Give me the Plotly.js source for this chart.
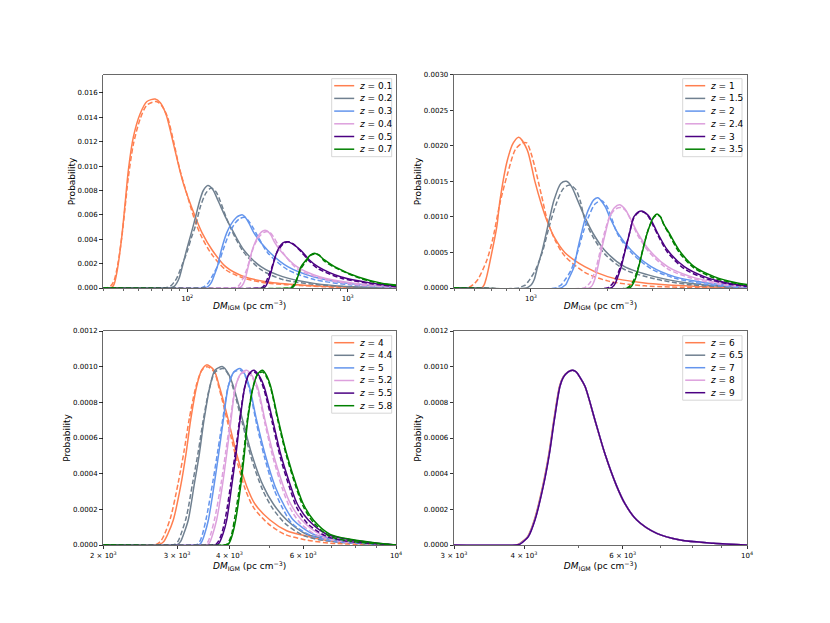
<!DOCTYPE html>
<html>
<head>
<meta charset="utf-8">
<script src="https://cdn.plot.ly/plotly-3.0.1.min.js"></script>
<style>html,body{margin:0;padding:0;background:#fff;}#chart{width:830px;height:623px;}</style>
</head>
<body>
<div id="chart"></div>
<script>
// ---------------- DATA ----------------
// Panel 1 : z = 0.1 ... 0.7
const p1_labels = ['0.1', '0.2', '0.3', '0.4', '0.5', '0.7'];
const p1_z01_x  = [30, 33.5, 35, 36.7, 39.1, 41, 43, 46.2, 50.9, 56.1, 63.2, 68, 74, 80.5, 89, 95, 112.6, 124, 143.3, 173.6, 226, 317, 512, 912, 2000];
const p1_z01_y  = [0, 0, 0.0003, 0.0015, 0.0042, 0.0069, 0.0097, 0.0124, 0.0143, 0.0153, 0.0155, 0.0152, 0.0142, 0.0123, 0.0099, 0.0085, 0.0058, 0.0045, 0.0031, 0.00175, 0.00093, 0.0005, 0.00025, 0.0001, 0];
const p1_z01_dx = [30, 31.5, 33.5, 35, 37, 39.3, 41, 43, 46.2, 51, 56, 64, 69, 75, 82, 90, 97, 112.6, 124, 143.3, 173.6, 226, 317, 512, 912, 2000];
const p1_z01_dy = [0, 0, 0.0002, 0.0006, 0.002, 0.0044, 0.0066, 0.0091, 0.0118, 0.0139, 0.015, 0.0153, 0.015, 0.0141, 0.0121, 0.0097, 0.0082, 0.0054, 0.0041, 0.0027, 0.0015, 0.0008, 0.0004, 0.0002, 0.00005, 0];
const p1_z02_x  = [30, 76, 80, 83, 86, 89, 93, 99, 106, 112.6, 119.3, 126, 134.5, 144, 155.3, 173.6, 195.6, 226, 288, 393, 618, 1054, 2000];
const p1_z02_y  = [0, 0, 0.00004, 0.00014, 0.0004, 0.0008, 0.0017, 0.0031, 0.0045, 0.0058, 0.0071, 0.008, 0.0084, 0.0081, 0.0072, 0.0058, 0.0045, 0.0031, 0.00175, 0.00093, 0.00038, 0.0001, 0];
const p1_z02_dx = [30, 71, 74, 78, 82, 86, 93, 100, 106, 112.6, 121, 131, 141, 151, 161, 176, 198, 226, 288, 393, 618, 1054, 2000];
const p1_z02_dy = [0, 0, 0.00003, 0.00012, 0.0004, 0.0008, 0.0019, 0.003, 0.0041, 0.0051, 0.0067, 0.0078, 0.0082, 0.0079, 0.0071, 0.0057, 0.0042, 0.0029, 0.0015, 0.0007, 0.0003, 0.00008, 0];
const p1_z03_x  = [30, 127, 132, 137, 142, 148, 154, 163, 176, 187, 203, 212, 221, 230, 243, 261, 317, 423, 618, 1054, 2000];
const p1_z03_y  = [0, 0, 0.00005, 0.0002, 0.0005, 0.0011, 0.00175, 0.0031, 0.0045, 0.0052, 0.0058, 0.00595, 0.006, 0.0058, 0.0053, 0.0045, 0.0031, 0.00175, 0.0009, 0.00035, 0.0001];
const p1_z03_dx = [30, 119, 124, 129, 135, 145, 157, 167, 182, 198, 213, 228, 238, 253, 274, 317, 423, 618, 1054, 2000];
const p1_z03_dy = [0, 0, 0.00004, 0.00015, 0.0004, 0.0011, 0.002, 0.0031, 0.0044, 0.0053, 0.0057, 0.0058, 0.0056, 0.0051, 0.0043, 0.0029, 0.0015, 0.0007, 0.00025, 0.00005];
const p1_z04_x  = [30, 205, 213, 220, 228, 240, 254, 268, 281, 298, 313, 330, 352, 379, 482, 675, 1086, 2000];
const p1_z04_y  = [0, 0, 0.00005, 0.0002, 0.0006, 0.00175, 0.0031, 0.0039, 0.0044, 0.0047, 0.0047, 0.0044, 0.0037, 0.0031, 0.00175, 0.0009, 0.0004, 0.0001];
const p1_z04_dx = [30, 192, 200, 208, 215, 230, 245, 262, 285, 305, 324, 345, 370, 400, 482, 675, 1086, 2000];
const p1_z04_dy = [0, 0, 0.00004, 0.00015, 0.0004, 0.0012, 0.0023, 0.0035, 0.0043, 0.0046, 0.0046, 0.0042, 0.0035, 0.0028, 0.0016, 0.0008, 0.0003, 0.00005];
const p1_z05_x  = [30, 295, 302, 310, 318, 328, 340, 366, 395, 423, 455, 510, 577, 652, 912, 1406, 2000];
const p1_z05_y  = [0, 0, 0.00005, 0.0002, 0.0005, 0.001, 0.00175, 0.0031, 0.0037, 0.0038, 0.0036, 0.0031, 0.0023, 0.00175, 0.0009, 0.0004, 0.00015];
const p1_z05_dx = [30, 284, 292, 300, 310, 321, 335, 362, 395, 428, 460, 510, 577, 652, 912, 1406, 2000];
const p1_z05_dy = [0, 0, 0.00004, 0.00016, 0.0005, 0.001, 0.0016, 0.0029, 0.0036, 0.0038, 0.0036, 0.003, 0.0022, 0.0016, 0.0008, 0.00035, 0.0001];
const p1_z07_x  = [30, 445, 454, 465, 476, 488, 512, 551, 585, 621, 660, 717, 828, 1161, 1624, 2000];
const p1_z07_y  = [0, 0, 0.00005, 0.0002, 0.0005, 0.0009, 0.00175, 0.0023, 0.0027, 0.00285, 0.0027, 0.0023, 0.00175, 0.0009, 0.0004, 0.00025];
const p1_z07_dx = [30, 436, 445, 456, 468, 480, 512, 551, 590, 628, 665, 717, 828, 1161, 1624, 2000];
const p1_z07_dy = [0, 0, 0.00004, 0.00016, 0.0004, 0.0007, 0.0016, 0.0022, 0.0027, 0.0028, 0.0027, 0.0022, 0.0017, 0.00085, 0.00035, 0.0002];

// Panel 2 : z = 1 ... 3.5
const p2_labels = ['1', '1.5', '2', '2.4', '3', '3.5'];
const p2_z1_x   = [500, 640, 655, 670, 693, 735, 757, 809, 853, 896, 965, 1036, 1094, 1154, 1240, 1356, 1623, 1994, 2779, 4550, 7000];
const p2_z1_y   = [0, 0, 0.00004, 0.00015, 0.00039, 0.00086, 0.00124, 0.0018, 0.00204, 0.00212, 0.00195, 0.0015, 0.0012, 0.00095, 0.0007, 0.0005, 0.0003, 0.00016, 0.00007, 0.00002, 0];
const p2_z1_dx  = [500, 560, 579, 600, 620, 672, 710, 757, 809, 870, 925, 962, 1000, 1036, 1100, 1160, 1240, 1356, 1623, 1994, 2779, 7000];
const p2_z1_dy  = [0, 0, 0.00002, 0.00006, 0.00012, 0.00039, 0.0007, 0.0012, 0.0016, 0.00195, 0.00204, 0.00204, 0.0019, 0.0017, 0.0013, 0.00095, 0.00068, 0.00045, 0.00022, 0.0001, 0.00003, 0];
const p2_z15_x  = [500, 960, 982, 1005, 1030, 1062, 1107, 1186, 1232, 1309, 1377, 1440, 1520, 1623, 1748, 1942, 2323, 3040, 4098, 7000];
const p2_z15_y  = [0, 0, 0.00002, 0.00005, 0.00012, 0.0003, 0.00053, 0.001, 0.00124, 0.00147, 0.0015, 0.00143, 0.00124, 0.001, 0.00077, 0.00053, 0.0003, 0.00016, 0.00007, 0];
const p2_z15_dx = [500, 900, 920, 950, 980, 1040, 1107, 1186, 1260, 1340, 1419, 1500, 1560, 1623, 1748, 1942, 2323, 3040, 4098, 7000];
const p2_z15_dy = [0, 0, 0.00002, 0.00004, 0.0001, 0.00025, 0.0005, 0.0009, 0.0012, 0.0014, 0.00145, 0.00138, 0.00122, 0.00097, 0.00072, 0.00048, 0.00026, 0.00013, 0.00005, 0];
const p2_z2_x   = [500, 1310, 1336, 1370, 1400, 1474, 1520, 1576, 1637, 1697, 1760, 1828, 1954, 2030, 2188, 2467, 2951, 3637, 4902, 7000];
const p2_z2_y   = [0, 0, 0.00002, 0.00005, 0.00012, 0.0003, 0.00053, 0.00077, 0.001, 0.00114, 0.00124, 0.00127, 0.00114, 0.001, 0.00077, 0.00053, 0.0003, 0.00016, 0.00007, 0.00001];
const p2_z2_dx  = [500, 1250, 1277, 1310, 1350, 1430, 1520, 1600, 1680, 1780, 1885, 1980, 2060, 2188, 2467, 2951, 3637, 4902, 7000];
const p2_z2_dy  = [0, 0, 0.00002, 0.00004, 0.0001, 0.00024, 0.0005, 0.00078, 0.001, 0.00118, 0.00123, 0.00115, 0.001, 0.00075, 0.0005, 0.00027, 0.00014, 0.00005, 0];
const p2_z24_x  = [500, 1690, 1723, 1750, 1780, 1828, 1885, 1954, 2030, 2120, 2222, 2320, 2430, 2617, 2907, 3425, 4225, 5529, 7000];
const p2_z24_y  = [0, 0, 0.00002, 0.00006, 0.00013, 0.0003, 0.00053, 0.00077, 0.001, 0.00113, 0.00117, 0.00112, 0.001, 0.00077, 0.00053, 0.0003, 0.00016, 0.00007, 0.00002];
const p2_z24_dx = [500, 1610, 1647, 1680, 1720, 1790, 1860, 1940, 2030, 2140, 2266, 2360, 2460, 2617, 2907, 3425, 4225, 5529, 7000];
const p2_z24_dy = [0, 0, 0.00002, 0.00005, 0.0001, 0.00026, 0.0005, 0.00078, 0.001, 0.00111, 0.00113, 0.00108, 0.00095, 0.00074, 0.0005, 0.00027, 0.00014, 0.00005, 0.00001];
const p2_z3_x   = [500, 2050, 2091, 2140, 2188, 2255, 2338, 2430, 2526, 2630, 2737, 2820, 2907, 3131, 3425, 3979, 4760, 5866, 7000];
const p2_z3_y   = [0, 0, 0.00002, 0.00007, 0.00016, 0.0003, 0.00053, 0.00077, 0.001, 0.00107, 0.00108, 0.00105, 0.001, 0.00077, 0.00053, 0.0003, 0.00016, 0.00007, 0.00003];
const p2_z3_dx  = [500, 1990, 2030, 2085, 2140, 2230, 2320, 2420, 2520, 2630, 2745, 2830, 2907, 3131, 3425, 3979, 4760, 5866, 7000];
const p2_z3_dy  = [0, 0, 0.00002, 0.00006, 0.00013, 0.00028, 0.0005, 0.00075, 0.00098, 0.00106, 0.00107, 0.00104, 0.00098, 0.00075, 0.0005, 0.00027, 0.00014, 0.00006, 0.00002];
const p2_z35_x  = [500, 2420, 2467, 2520, 2580, 2641, 2737, 2848, 2933, 3020, 3114, 3210, 3304, 3477, 3803, 4351, 5206, 6415, 7000];
const p2_z35_y  = [0, 0, 0.00002, 0.00007, 0.00016, 0.0003, 0.00053, 0.00077, 0.0009, 0.001, 0.00104, 0.001, 0.0009, 0.00077, 0.00053, 0.0003, 0.00016, 0.00007, 0.00005];
const p2_z35_dx = [500, 2375, 2420, 2480, 2540, 2620, 2720, 2835, 2925, 3020, 3120, 3215, 3310, 3477, 3803, 4351, 5206, 6415, 7000];
const p2_z35_dy = [0, 0, 0.00002, 0.00006, 0.00013, 0.00027, 0.0005, 0.00075, 0.00089, 0.00099, 0.00103, 0.001, 0.00089, 0.00075, 0.0005, 0.00028, 0.00014, 0.00006, 0.00004];

// Panel 3 : z = 4 ... 5.8
const p3_labels = ['4', '4.4', '5', '5.2', '5.5', '5.8'];
const p3_z4_x   = [2000, 2670, 2732, 2790, 2850, 2939, 3060, 3151, 3233, 3342, 3435, 3530, 3675, 3785, 3978, 4164, 4399, 4605, 5002, 5482, 6118, 7086, 10000];
const p3_z4_y   = [0, 0, 0.000005, 0.00002, 0.00006, 0.00014, 0.00033, 0.00051, 0.0007, 0.00089, 0.00098, 0.00101, 0.00098, 0.00089, 0.0007, 0.00051, 0.00033, 0.00023, 0.00014, 0.00008, 0.00005, 0.00002, 0];
const p3_z4_dx  = [2000, 2620, 2682, 2740, 2800, 2900, 3020, 3120, 3210, 3330, 3440, 3540, 3680, 3790, 3970, 4150, 4370, 4570, 4950, 5420, 6050, 7000, 10000];
const p3_z4_dy  = [0, 0, 0.000005, 0.00002, 0.00006, 0.00016, 0.00035, 0.00053, 0.00071, 0.00089, 0.00098, 0.001, 0.00097, 0.00087, 0.00068, 0.00049, 0.00031, 0.00021, 0.00012, 0.00006, 0.00003, 0.00001, 0];
const p3_z44_x  = [2000, 2960, 3021, 3060, 3110, 3191, 3293, 3391, 3479, 3596, 3696, 3855, 3980, 4089, 4303, 4522, 4822, 5094, 5482, 6118, 7086, 10000];
const p3_z44_y  = [0, 0, 0.000005, 0.00002, 0.00006, 0.00014, 0.00033, 0.00051, 0.0007, 0.00089, 0.00098, 0.001, 0.00096, 0.00089, 0.0007, 0.00051, 0.00033, 0.00023, 0.00014, 0.00006, 0.00003, 0];
const p3_z44_dx = [2000, 2910, 2970, 3015, 3065, 3160, 3270, 3375, 3470, 3595, 3700, 3870, 3990, 4095, 4300, 4510, 4800, 5060, 5440, 6060, 7000, 10000];
const p3_z44_dy = [0, 0, 0.000005, 0.00002, 0.00006, 0.00016, 0.00035, 0.00053, 0.00071, 0.00089, 0.00097, 0.00099, 0.00095, 0.00087, 0.00068, 0.00049, 0.00031, 0.00021, 0.00012, 0.00005, 0.00002, 0];
const p3_z5_x   = [2000, 3340, 3404, 3440, 3490, 3564, 3675, 3771, 3869, 3978, 4100, 4241, 4350, 4463, 4647, 4866, 5141, 5382, 5686, 6349, 7217, 10000];
const p3_z5_y   = [0, 0, 0.000005, 0.00002, 0.00006, 0.00014, 0.00033, 0.00051, 0.0007, 0.00089, 0.00097, 0.00099, 0.00096, 0.00089, 0.0007, 0.00051, 0.00033, 0.00023, 0.00014, 0.00006, 0.00003, 0];
const p3_z5_dx  = [2000, 3300, 3360, 3400, 3450, 3530, 3650, 3755, 3860, 3975, 4100, 4250, 4360, 4470, 4645, 4855, 5120, 5350, 5650, 6300, 7150, 10000];
const p3_z5_dy  = [0, 0, 0.000005, 0.00002, 0.00006, 0.00016, 0.00035, 0.00053, 0.00071, 0.00089, 0.00097, 0.00098, 0.00095, 0.00087, 0.00068, 0.00049, 0.00031, 0.00021, 0.00012, 0.00005, 0.00002, 0];
const p3_z52_x  = [2000, 3500, 3564, 3600, 3650, 3729, 3848, 3942, 4036, 4141, 4260, 4399, 4530, 4665, 4866, 5094, 5382, 5603, 5953, 6587, 7486, 10000];
const p3_z52_y  = [0, 0, 0.000005, 0.00002, 0.00006, 0.00014, 0.00033, 0.00051, 0.0007, 0.00089, 0.00096, 0.00098, 0.00095, 0.00089, 0.0007, 0.00051, 0.00033, 0.00023, 0.00014, 0.00006, 0.00003, 0];
const p3_z52_dx = [2000, 3460, 3520, 3560, 3610, 3700, 3825, 3925, 4025, 4140, 4265, 4405, 4535, 4670, 4865, 5085, 5365, 5580, 5920, 6540, 7420, 10000];
const p3_z52_dy = [0, 0, 0.000005, 0.00002, 0.00006, 0.00016, 0.00035, 0.00053, 0.00071, 0.00089, 0.00096, 0.00097, 0.00094, 0.00087, 0.00068, 0.00049, 0.00031, 0.00021, 0.00012, 0.00005, 0.00002, 0];
const p3_z55_x  = [2000, 3700, 3764, 3800, 3860, 3942, 4051, 4149, 4241, 4358, 4460, 4580, 4710, 4839, 5076, 5303, 5603, 5812, 6175, 6832, 7767, 10000];
const p3_z55_y  = [0, 0, 0.000005, 0.00002, 0.00006, 0.00014, 0.00033, 0.00051, 0.0007, 0.00089, 0.00096, 0.00098, 0.00095, 0.00089, 0.0007, 0.00051, 0.00033, 0.00023, 0.00014, 0.00006, 0.00003, 0];
const p3_z55_dx = [2000, 3660, 3720, 3765, 3830, 3920, 4035, 4140, 4235, 4358, 4465, 4585, 4715, 4840, 5072, 5295, 5590, 5795, 6150, 6800, 7700, 10000];
const p3_z55_dy = [0, 0, 0.000005, 0.00002, 0.00006, 0.00016, 0.00035, 0.00053, 0.00071, 0.00089, 0.00096, 0.00097, 0.00094, 0.00087, 0.00068, 0.00049, 0.00031, 0.00021, 0.00012, 0.00005, 0.00002, 0];
const p3_z58_x  = [2000, 3910, 3978, 4015, 4070, 4141, 4256, 4344, 4425, 4564, 4680, 4803, 4910, 5019, 5236, 5482, 5791, 6007, 6349, 6960, 7911, 10000];
const p3_z58_y  = [0, 0, 0.000005, 0.00002, 0.00006, 0.00014, 0.00033, 0.00051, 0.0007, 0.00089, 0.00096, 0.00098, 0.00095, 0.00089, 0.0007, 0.00051, 0.00033, 0.00023, 0.00014, 0.00006, 0.00003, 0];
const p3_z58_dx = [2000, 3880, 3950, 3990, 4050, 4125, 4245, 4335, 4420, 4560, 4680, 4805, 4912, 5020, 5232, 5475, 5780, 5995, 6330, 6930, 7870, 10000];
const p3_z58_dy = [0, 0, 0.000005, 0.00002, 0.00006, 0.00016, 0.00035, 0.00053, 0.00071, 0.00089, 0.00096, 0.00097, 0.00094, 0.00088, 0.00069, 0.0005, 0.00032, 0.00022, 0.00013, 0.00005, 0.00002, 0];

// Panel 4 : z = 6 ... 9
const p4_labels = ['6', '6.5', '7', '8', '9'];
const p4_z6_x   = [3000, 3840, 3914, 3975, 4060, 4172, 4318, 4428, 4520, 4628, 4693, 4783, 4880, 4956, 5032, 5136, 5352, 5578, 5852, 6058, 6356, 6900, 7596, 8710, 10000];
const p4_z6_y   = [0, 0, 0.000005, 0.00002, 0.000047, 0.00014, 0.00033, 0.00051, 0.0007, 0.00089, 0.00094, 0.00097, 0.00098, 0.00097, 0.00094, 0.00089, 0.0007, 0.00051, 0.00033, 0.00023, 0.00014, 0.000065, 0.000028, 0.00001, 0];
const p4_z65_x  = [3000, 3850, 3924, 3984, 4066, 4178, 4324, 4434, 4526, 4633, 4698, 4787, 4883, 4958, 5034, 5138, 5354, 5579, 5853, 6059, 6357, 6902, 7598, 8712, 10000];
const p4_z65_y  = [0, 0, 0.000005, 0.00002, 0.000047, 0.00014, 0.00033, 0.00051, 0.0007, 0.00089, 0.00094, 0.00097, 0.00098, 0.00097, 0.00094, 0.00089, 0.0007, 0.00051, 0.00033, 0.00023, 0.00014, 0.000065, 0.000028, 0.00001, 0];
const p4_z7_x   = [3000, 3855, 3930, 3989, 4070, 4182, 4328, 4437, 4529, 4636, 4700, 4789, 4884, 4959, 5035, 5139, 5355, 5580, 5854, 6059, 6357, 6902, 7598, 8713, 10000];
const p4_z7_y   = [0, 0, 0.000005, 0.00002, 0.000047, 0.00014, 0.00033, 0.00051, 0.0007, 0.00089, 0.00094, 0.00097, 0.00098, 0.00097, 0.00094, 0.00089, 0.0007, 0.00051, 0.00033, 0.00023, 0.00014, 0.000065, 0.000028, 0.00001, 0];
const p4_z8_x   = [3000, 3858, 3932, 3991, 4071, 4183, 4329, 4438, 4530, 4637, 4701, 4790, 4885, 4960, 5035, 5139, 5355, 5580, 5854, 6059, 6357, 6902, 7598, 8713, 10000];
const p4_z8_y   = [0, 0, 0.000005, 0.00002, 0.000047, 0.00014, 0.00033, 0.00051, 0.0007, 0.00089, 0.00094, 0.00097, 0.00098, 0.00097, 0.00094, 0.00089, 0.0007, 0.00051, 0.00033, 0.00023, 0.00014, 0.000065, 0.000028, 0.00001, 0];
const p4_z9_x   = [3000, 3860, 3934, 3993, 4072, 4184, 4330, 4439, 4530, 4637, 4701, 4790, 4885, 4960, 5035, 5139, 5355, 5580, 5854, 6059, 6357, 6902, 7598, 8713, 10000];
const p4_z9_y   = [0, 0, 0.000005, 0.00002, 0.000047, 0.00014, 0.00033, 0.00051, 0.0007, 0.00089, 0.00094, 0.00097, 0.00098, 0.00097, 0.00094, 0.00089, 0.0007, 0.00051, 0.00033, 0.00023, 0.00014, 0.000065, 0.000028, 0.00001, 0];

// Tick labels
const p1_xticks = [100, 1000];
const p1_xtext  = ['10<sup>2</sup>', '10<sup>3</sup>'];
const p2_xticks = [1000];
const p2_xtext  = ['10<sup>3</sup>'];
const p3_xticks = [2000, 3000, 4000, 6000, 10000];
const p3_xtext  = ['2 × 10<sup>3</sup>', '3 × 10<sup>3</sup>', '4 × 10<sup>3</sup>', '6 × 10<sup>3</sup>', '10<sup>4</sup>'];
const p4_xticks = [3000, 4000, 6000, 10000];
const p4_xtext  = ['3 × 10<sup>3</sup>', '4 × 10<sup>3</sup>', '6 × 10<sup>3</sup>', '10<sup>4</sup>'];
const p1_minor  = [30, 40, 50, 60, 70, 80, 90, 200, 300, 400, 500, 600, 700, 800, 900, 2000];
const p2_minor  = [500, 600, 700, 800, 900, 2000, 3000, 4000, 5000, 6000, 7000];
const p3_minor  = [5000, 7000, 8000, 9000];
const p4_minor  = [5000, 7000, 8000, 9000];

const colors6 = ['#FF7F50', '#708090', '#6495ED', '#DDA0DD', '#4B0082', '#008000'];

// ---------------- BUILD ----------------
const W = 830, H = 623;
const panels = [
  { xa: 'x',  ya: 'y',  labels: p1_labels, solid: [[p1_z01_x,p1_z01_y],[p1_z02_x,p1_z02_y],[p1_z03_x,p1_z03_y],[p1_z04_x,p1_z04_y],[p1_z05_x,p1_z05_y],[p1_z07_x,p1_z07_y]],
    dashed: [[p1_z01_dx,p1_z01_dy],[p1_z02_dx,p1_z02_dy],[p1_z03_dx,p1_z03_dy],[p1_z04_dx,p1_z04_dy],[p1_z05_dx,p1_z05_dy],[p1_z07_dx,p1_z07_dy]],
    leg: { left: 331.7, right: 391.7, first: 85.7, step: 12.7 } },
  { xa: 'x2', ya: 'y2', labels: p2_labels, solid: [[p2_z1_x,p2_z1_y],[p2_z15_x,p2_z15_y],[p2_z2_x,p2_z2_y],[p2_z24_x,p2_z24_y],[p2_z3_x,p2_z3_y],[p2_z35_x,p2_z35_y]],
    dashed: [[p2_z1_dx,p2_z1_dy],[p2_z15_dx,p2_z15_dy],[p2_z2_dx,p2_z2_dy],[p2_z24_dx,p2_z24_dy],[p2_z3_dx,p2_z3_dy],[p2_z35_dx,p2_z35_dy]],
    leg: { left: 682.7, right: 742, first: 85.7, step: 12.7 } },
  { xa: 'x3', ya: 'y3', labels: p3_labels, solid: [[p3_z4_x,p3_z4_y],[p3_z44_x,p3_z44_y],[p3_z5_x,p3_z5_y],[p3_z52_x,p3_z52_y],[p3_z55_x,p3_z55_y],[p3_z58_x,p3_z58_y]],
    dashed: [[p3_z4_dx,p3_z4_dy],[p3_z44_dx,p3_z44_dy],[p3_z5_dx,p3_z5_dy],[p3_z52_dx,p3_z52_dy],[p3_z55_dx,p3_z55_dy],[p3_z58_dx,p3_z58_dy]],
    leg: { left: 331.7, right: 391.7, first: 342.7, step: 12.6 } },
  { xa: 'x4', ya: 'y4', labels: p4_labels, solid: [[p4_z6_x,p4_z6_y],[p4_z65_x,p4_z65_y],[p4_z7_x,p4_z7_y],[p4_z8_x,p4_z8_y],[p4_z9_x,p4_z9_y]],
    dashed: [],
    leg: { left: 682.7, right: 742, first: 342.7, step: 12.5 } }
];

const traces = [];
const shapes = [];
const annotations = [];
const fx = px => px / W;
const fy = py => 1 - py / H;

panels.forEach(p => {
  p.labels.forEach((lab, i) => {
    const c = colors6[i];
    traces.push({ x: p.solid[i][0], y: p.solid[i][1], xaxis: p.xa, yaxis: p.ya, type: 'scatter', mode: 'lines',
      line: { color: c, width: 1.5, shape: 'spline', smoothing: 0.8 }, name: 'z = ' + lab, hoverinfo: 'skip' });
    if (p.dashed[i]) {
      traces.push({ x: p.dashed[i][0], y: p.dashed[i][1], xaxis: p.xa, yaxis: p.ya, type: 'scatter', mode: 'lines',
        line: { color: c, width: 1.5, dash: '5px,2.5px', shape: 'spline', smoothing: 0.8 }, showlegend: false, hoverinfo: 'skip' });
    }
  });
  // compact legend box (matplotlib-like spacing)
  const L = p.leg, n = p.labels.length;
  const top = L.first - 7, bottom = L.first + (n - 1) * L.step + 7.5;
  shapes.push({ type: 'rect', xref: 'paper', yref: 'paper', x0: fx(L.left), x1: fx(L.right), y0: fy(bottom), y1: fy(top),
    fillcolor: 'rgba(255,255,255,0.85)', line: { color: '#cccccc', width: 0.8 }, layer: 'above' });
  p.labels.forEach((lab, i) => {
    const yy = L.first + i * L.step;
    shapes.push({ type: 'line', xref: 'paper', yref: 'paper', x0: fx(L.left + 2.5), x1: fx(L.left + 22.5), y0: fy(yy), y1: fy(yy),
      line: { color: colors6[i], width: 1.5 }, layer: 'above' });
    annotations.push({ xref: 'paper', yref: 'paper', x: fx(L.left + 26.5), y: fy(yy), xanchor: 'left', yanchor: 'middle',
      text: '<i>z</i> = ' + lab, showarrow: false, font: { family: 'DejaVu Sans', size: 9, color: '#000' }, borderpad: 0 });
  });
});

const tickFont = { family: 'DejaVu Sans', size: 7, color: '#000' };
const titleFont = { family: 'DejaVu Sans', size: 9, color: '#000' };
const xTitle = '<i>DM</i><sub>IGM</sub> (pc cm<sup>−3</sup>)';
function xax(domain, anchor, range, tv, tt, minorVals) {
  return { type: 'log', domain: domain, anchor: anchor, range: range, tickmode: 'array', tickvals: tv, ticktext: tt,
    ticks: 'outside', ticklen: 3.5, tickwidth: 0.8, tickcolor: '#000', showline: true, mirror: true, linecolor: '#444', linewidth: 0.8,
    showgrid: false, zeroline: false, tickfont: tickFont,
    minor: { tickmode: 'array', tickvals: minorVals, ticks: 'outside', ticklen: 2, tickwidth: 0.6, tickcolor: '#000', showgrid: false },
    title: { text: xTitle, font: titleFont, standoff: 0 } };
}
function yax(domain, anchor, range, dtick, fmt) {
  return { domain: domain, anchor: anchor, range: range, tickmode: 'linear', tick0: 0, dtick: dtick, tickformat: fmt,
    ticks: 'outside', ticklen: 3.5, tickwidth: 0.8, tickcolor: '#000', showline: true, mirror: true, linecolor: '#444', linewidth: 0.8,
    showgrid: false, zeroline: false, tickfont: tickFont,
    title: { text: 'Probability', font: titleFont, standoff: 0 } };
}
const dxL = [103.3 / W, 396 / W], dxR = [454 / W, 747 / W];
const dyT = [1 - 288 / H, 1 - 74.7 / H], dyB = [1 - 545 / H, 1 - 331 / H];

const layout = {
  width: W, height: H, margin: { l: 0, r: 0, t: 0, b: 0 },
  paper_bgcolor: '#fff', plot_bgcolor: '#fff', showlegend: false,
  font: { family: 'DejaVu Sans', size: 9, color: '#000' },
  xaxis:  xax(dxL, 'y',  [Math.log10(30), Math.log10(2000)], p1_xticks, p1_xtext, p1_minor),
  yaxis:  yax(dyT, 'x',  [0, 0.0175], 0.002, '.3f'),
  xaxis2: xax(dxR, 'y2', [Math.log10(500), Math.log10(7000)], p2_xticks, p2_xtext, p2_minor),
  yaxis2: yax(dyT, 'x2', [0, 0.003], 0.0005, '.4f'),
  xaxis3: xax(dxL, 'y3', [Math.log10(2000), 4], p3_xticks, p3_xtext, p3_minor),
  yaxis3: yax(dyB, 'x3', [0, 0.0012], 0.0002, '.4f'),
  xaxis4: xax(dxR, 'y4', [Math.log10(3000), 4], p4_xticks, p4_xtext, p4_minor),
  yaxis4: yax(dyB, 'x4', [0, 0.0012], 0.0002, '.4f'),
  shapes: shapes, annotations: annotations
};

Plotly.newPlot('chart', traces, layout, { staticPlot: true, displayModeBar: false });
</script>
</body>
</html>
